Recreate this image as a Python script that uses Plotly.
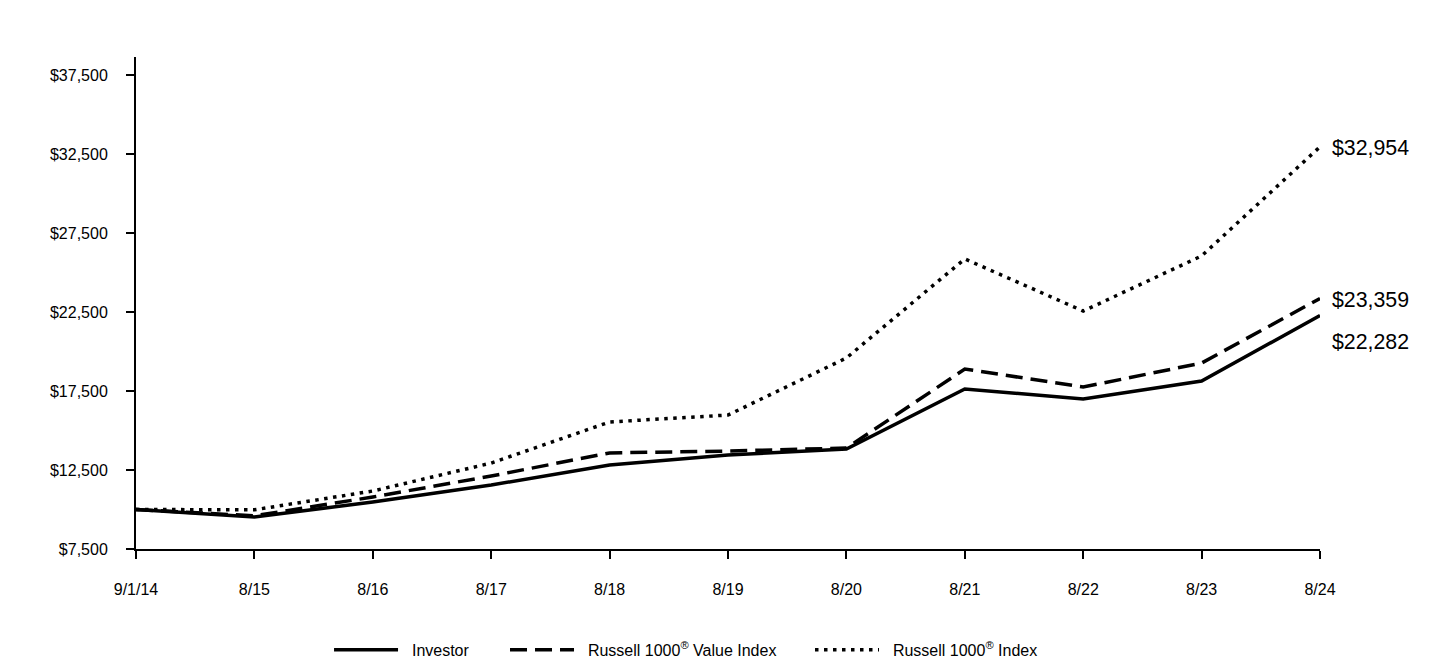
import plotly.graph_objects as go

dates = ["9/1/14", "8/15", "8/16", "8/17", "8/18", "8/19", "8/20", "8/21", "8/22", "8/23", "8/24"]
investor = [10000, 9530, 10470, 11550, 12820, 13450, 13830, 17630, 16990, 18130, 22282]
value_index = [10000, 9600, 10790, 12120, 13580, 13700, 13890, 18890, 17750, 19270, 23359]
russell_1000 = [10000, 9980, 11170, 12940, 15540, 15980, 19590, 25860, 22560, 26050, 32954]
y_ticks = [7500, 12500, 17500, 22500, 27500, 32500, 37500]

series = [
    ("Investor", investor, "solid", "legend", 0.2285),
    ("Russell 1000<sup>®</sup> Value Index", value_index, "17px,8px", "legend2", 0.3507),
    ("Russell 1000<sup>®</sup> Index", russell_1000, "3.5px,5.5px", "legend3", 0.5625),
]
label_shift = {0: -27, 1: -2, 2: -1}

FONT = "Arial, Liberation Sans, sans-serif"
PAD = "&nbsp;&nbsp;"

xs = list(range(len(dates)))
fig = go.Figure()
for name, vals, dash, lg, _ in series:
    fig.add_trace(go.Scatter(
        x=xs, y=vals, mode="lines", name=PAD + name, legend=lg,
        line=dict(color="black", width=3.5, dash=dash),
        hoverinfo="skip",
    ))

for i, (name, vals, dash, lg, _) in enumerate(series):
    fig.add_annotation(
        x=xs[-1], y=vals[-1], xref="x", yref="y",
        text="${:,}".format(vals[-1]), showarrow=False,
        xanchor="left", yanchor="middle", xshift=10, yshift=label_shift[i],
        font=dict(family=FONT, size=21.33, color="black"),
    )

legend_common = dict(
    orientation="h", xref="container", yref="container",
    y=0.0152, yanchor="middle", xanchor="left",
    itemwidth=64, font=dict(family=FONT, size=16, color="black"),
    bgcolor="rgba(0,0,0,0)", borderwidth=0,
)
legends = {}
for name, vals, dash, lg, lx in series:
    legends[lg] = dict(legend_common, x=lx)

fig.update_layout(
    width=1440, height=660,
    margin=dict(l=136, r=120, t=57, b=111, autoexpand=False),
    paper_bgcolor="white", plot_bgcolor="white",
    font=dict(family=FONT, size=16, color="black"),
    showlegend=True,
    xaxis=dict(
        range=[0, 10], tickvals=xs, ticktext=dates,
        showgrid=False, zeroline=False,
        showline=True, linecolor="black", linewidth=2,
        ticks="outside", ticklen=8, tickwidth=2, tickcolor="black",
        tickfont=dict(family=FONT, size=16), ticklabelstandoff=17,
    ),
    yaxis=dict(
        range=[7500, 38640], tickvals=y_ticks,
        ticktext=["${:,}".format(v) for v in y_ticks],
        showgrid=False, zeroline=False,
        showline=True, linecolor="black", linewidth=2,
        ticks="outside", ticklen=8, tickwidth=2, tickcolor="black",
        tickfont=dict(family=FONT, size=16), ticklabelstandoff=15,
    ),
    **legends,
)

fig.write_html(
    "out.html",
    config={"displayModeBar": False, "staticPlot": True},
    post_script="document.body.style.margin='0px';",
)
